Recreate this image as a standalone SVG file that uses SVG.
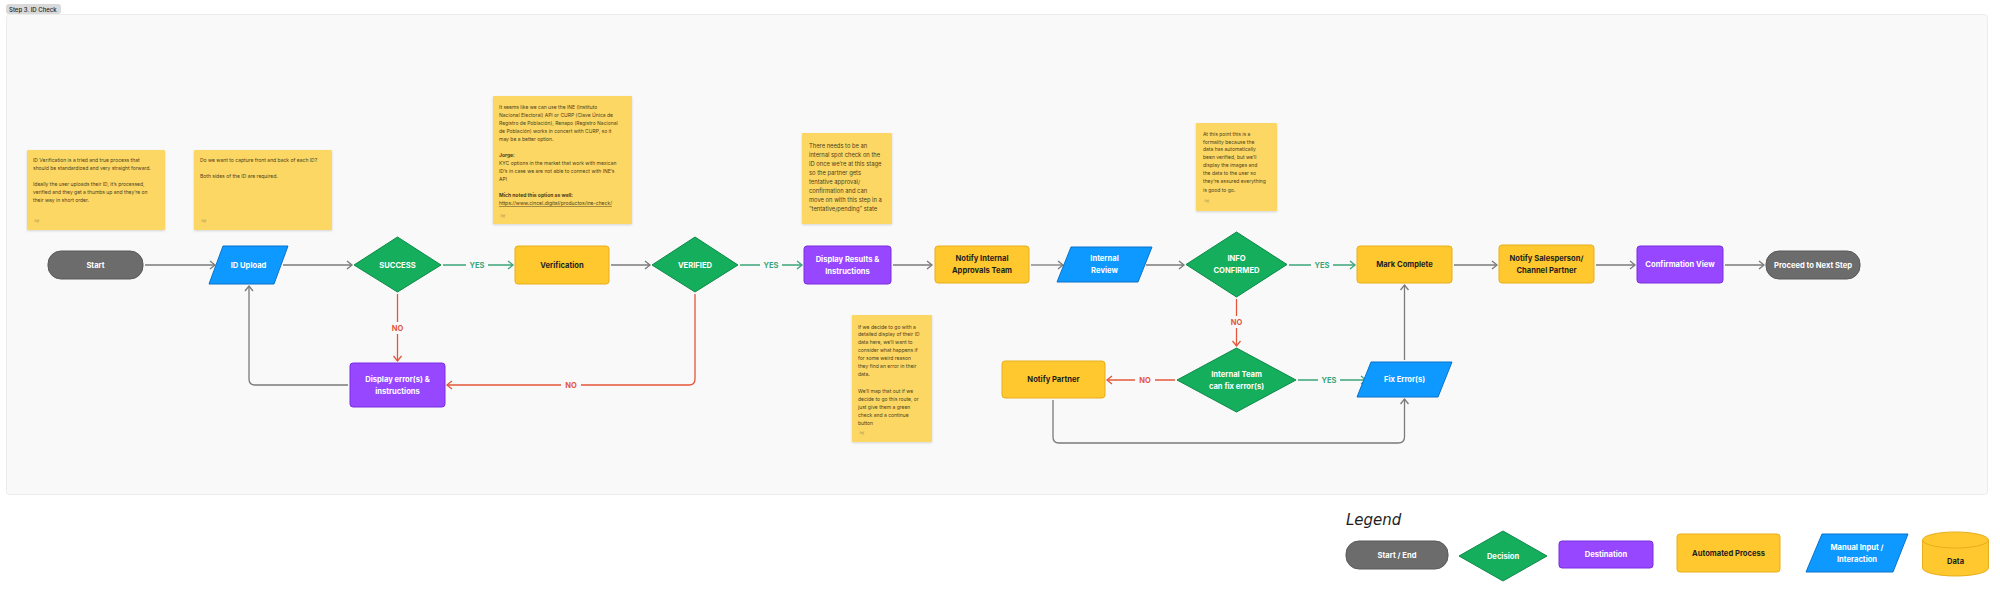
<svg xmlns="http://www.w3.org/2000/svg" width="2000" height="589" viewBox="0 0 2000 589">
<defs>
<style>
.lbl{font-family:Inter,"Liberation Sans",sans-serif;font-size:7.6px;font-weight:700;text-anchor:middle}
.w{fill:#ffffff}
.d{fill:#1e1e1e}
.note{fill:#fdd763;filter:url(#sh)}
.nt{font-family:Inter,"Liberation Sans",sans-serif;font-size:5px;fill:#4a3f1e}
.nt6{font-family:Inter,"Liberation Sans",sans-serif;font-size:5.8px;fill:#4a3f1e}
.sig{font-family:"Liberation Serif",serif;font-style:italic;font-size:3.5px;fill:#9a8a55}
.gray{fill:#6c6c6c;stroke:#595959;stroke-width:1}
.blue{fill:#0d99ff;stroke:#0a72c7;stroke-width:1;stroke-linejoin:round}
.green{fill:#14ae5c;stroke:#0d8a48;stroke-width:1;stroke-linejoin:round}
.yellow{fill:#ffc82e;stroke:#e8ae1c;stroke-width:1}
.purple{fill:#9747ff;stroke:#7a2fe0;stroke-width:1}
.cg{fill:none;stroke:#7a7a7a;stroke-width:1.3}
.cy{fill:none;stroke:#3aa57a;stroke-width:1.3}
.cn{fill:none;stroke:#e4563a;stroke-width:1.3}
.yes{font-family:Inter,"Liberation Sans",sans-serif;font-size:7.5px;font-weight:700;fill:#3aa57a;text-anchor:middle}
.no{font-family:Inter,"Liberation Sans",sans-serif;font-size:7.5px;font-weight:700;fill:#e4563a;text-anchor:middle}
.bg{fill:#f9f9f9}
</style>
<filter id="sh" x="-10%" y="-10%" width="120%" height="130%">
<feDropShadow dx="0" dy="1" stdDeviation="1" flood-color="#000" flood-opacity="0.15"/>
</filter>
<marker id="ag" markerUnits="userSpaceOnUse" markerWidth="8" markerHeight="10" refX="6" refY="5" orient="auto"><path d="M1,1 L6,5 L1,9" fill="none" stroke="#7a7a7a" stroke-width="1.3"/></marker>
<marker id="ay" markerUnits="userSpaceOnUse" markerWidth="8" markerHeight="10" refX="6" refY="5" orient="auto"><path d="M1,1 L6,5 L1,9" fill="none" stroke="#3aa57a" stroke-width="1.3"/></marker>
<marker id="an" markerUnits="userSpaceOnUse" markerWidth="8" markerHeight="10" refX="6" refY="5" orient="auto"><path d="M1,1 L6,5 L1,9" fill="none" stroke="#e4563a" stroke-width="1.3"/></marker>
</defs>
<rect width="2000" height="589" fill="#ffffff"/>
<g id="frame">
<rect x="6.5" y="14.5" width="1981" height="480" rx="3" fill="#f9f9f9" stroke="#ececec" stroke-width="1"/>
<rect x="6" y="4" width="55" height="10" rx="3" fill="#d9d9d9"/>
<text x="9" y="11.6" font-family="Inter,'Liberation Sans',sans-serif" font-size="6px" font-weight="500" fill="#1e1e1e">Step 3. ID Check</text>
</g>

<g id="note1">
<rect class="note" x="27" y="150" width="138" height="80" rx="1"/>
<text class="nt" x="33" y="162">ID Verification is a tried and true process that</text>
<text class="nt" x="33" y="170">should be standardized and very straight forward.</text>
<text class="nt" x="33" y="186">Ideally the user uploads their ID, it’s processed,</text>
<text class="nt" x="33" y="194">verified and they get a thumbs up and they’re on</text>
<text class="nt" x="33" y="202">their way in short order.</text>
<text class="sig" x="34" y="222">Jeff</text>
</g>
<g id="note2">
<rect class="note" x="194" y="150" width="138" height="80" rx="1"/>
<text class="nt" x="200" y="162">Do we want to capture front and back of each ID?</text>
<text class="nt" x="200" y="178">Both sides of the ID are required.</text>
<text class="sig" x="201" y="222">Jeff</text>
</g>
<g id="note3">
<rect class="note" x="493" y="96" width="139" height="128" rx="1"/>
<text class="nt" x="499" y="108.5">It seems like we can use the INE (Instituto</text>
<text class="nt" x="499" y="116.5">Nacional Electoral) API or CURP (Clave Única de</text>
<text class="nt" x="499" y="124.5">Registro de Población), Renapo (Registro Nacional</text>
<text class="nt" x="499" y="132.5">de Población) works in concert with CURP, so it</text>
<text class="nt" x="499" y="140.7">may be a better option.</text>
<text class="nt" x="499" y="156.7" font-weight="700">Jorge:</text>
<text class="nt" x="499" y="164.7">KYC options in the market that work with mexican</text>
<text class="nt" x="499" y="172.7">ID’s in case we are not able to connect with INE’s</text>
<text class="nt" x="499" y="181">API</text>
<text class="nt" x="499" y="197" font-weight="700">Mich noted this option as well:</text>
<text class="nt" x="499" y="205" text-decoration="underline">https://www.cincel.digital/productos/ine-check/</text>
<text class="sig" x="500" y="217">Jeff</text>
</g>
<g id="note4">
<rect class="note" x="802" y="133" width="90" height="91" rx="1"/>
<text class="nt6" x="809" y="147.7">There needs to be an</text>
<text class="nt6" x="809" y="156.7">internal spot check on the</text>
<text class="nt6" x="809" y="165.7">ID once we’re at this stage</text>
<text class="nt6" x="809" y="174.7">so the partner gets</text>
<text class="nt6" x="809" y="183.7">tentative approval/</text>
<text class="nt6" x="809" y="192.7">confirmation and can</text>
<text class="nt6" x="809" y="201.7">move on with this step in a</text>
<text class="nt6" x="809" y="210.7">“tentative/pending” state</text>
</g>
<g id="note5">
<rect class="note" x="1196" y="123" width="81" height="88" rx="1"/>
<text class="nt" x="1203" y="136">At this point this is a</text>
<text class="nt" x="1203" y="143.7">formality because the</text>
<text class="nt" x="1203" y="151.3">data has automatically</text>
<text class="nt" x="1203" y="159.3">been verified, but we’ll</text>
<text class="nt" x="1203" y="167.3">display the images and</text>
<text class="nt" x="1203" y="175">the data to the user so</text>
<text class="nt" x="1203" y="183">they’re assured everything</text>
<text class="nt" x="1203" y="191.7">is good to go.</text>
<text class="sig" x="1204" y="202">Jeff</text>
</g>
<g id="note6">
<rect class="note" x="852" y="315" width="80" height="127" rx="1"/>
<text class="nt" x="858" y="328.7">If we decide to go with a</text>
<text class="nt" x="858" y="336.3">detailed display of their ID</text>
<text class="nt" x="858" y="344">data here, we’ll want to</text>
<text class="nt" x="858" y="352">consider what happens if</text>
<text class="nt" x="858" y="360">for some weird reason</text>
<text class="nt" x="858" y="368">they find an error in their</text>
<text class="nt" x="858" y="376">data.</text>
<text class="nt" x="858" y="392.7">We’ll map that out if we</text>
<text class="nt" x="858" y="400.7">decide to go this route, or</text>
<text class="nt" x="858" y="408.7">just give them a green</text>
<text class="nt" x="858" y="416.7">check and a continue</text>
<text class="nt" x="858" y="424.7">button</text>
<text class="sig" x="859" y="434">Jeff</text>
</g>

<g id="connectors">
<line class="cg" x1="145" y1="265" x2="215" y2="265" marker-end="url(#ag)"/>
<line class="cg" x1="283" y1="265" x2="352" y2="265" marker-end="url(#ag)"/>
<line class="cy" x1="443" y1="265" x2="513" y2="265" marker-end="url(#ay)"/>
<line class="cg" x1="611" y1="265" x2="650" y2="265" marker-end="url(#ag)"/>
<line class="cy" x1="740" y1="265" x2="802" y2="265" marker-end="url(#ay)"/>
<line class="cg" x1="893" y1="265" x2="932" y2="265" marker-end="url(#ag)"/>
<line class="cg" x1="1031" y1="265" x2="1063" y2="265" marker-end="url(#ag)"/>
<line class="cg" x1="1146" y1="265" x2="1184" y2="265" marker-end="url(#ag)"/>
<line class="cy" x1="1289" y1="265" x2="1355" y2="265" marker-end="url(#ay)"/>
<line class="cg" x1="1454" y1="265" x2="1497" y2="265" marker-end="url(#ag)"/>
<line class="cg" x1="1596" y1="265" x2="1635" y2="265" marker-end="url(#ag)"/>
<line class="cg" x1="1725" y1="265" x2="1764" y2="265" marker-end="url(#ag)"/>
<line class="cn" x1="397.5" y1="294" x2="397.5" y2="361" marker-end="url(#an)"/>
<path class="cn" d="M695,294 V379 Q695,385 689,385 H447" marker-end="url(#an)"/>
<path class="cg" d="M348,385 H255 Q249,385 249,379 V286" marker-end="url(#ag)"/>
<line class="cn" x1="1236.5" y1="299" x2="1236.5" y2="346" marker-end="url(#an)"/>
<line class="cn" x1="1175" y1="380" x2="1107" y2="380" marker-end="url(#an)"/>
<line class="cy" x1="1298" y1="380" x2="1366" y2="380" marker-end="url(#ay)"/>
<line class="cg" x1="1404.5" y1="360" x2="1404.5" y2="285" marker-end="url(#ag)"/>
<path class="cg" d="M1053,400 V437 Q1053,443 1059,443 H1398 Q1404.5,443 1404.5,437 V399" marker-end="url(#ag)"/>
<rect class="bg" x="466" y="259" width="22" height="12"/>
<text class="yes" x="477" y="267.7">YES</text>
<rect class="bg" x="760" y="259" width="22" height="12"/>
<text class="yes" x="771" y="267.7">YES</text>
<rect class="bg" x="1311" y="259" width="22" height="12"/>
<text class="yes" x="1322" y="267.7">YES</text>
<rect class="bg" x="1318" y="374" width="22" height="12"/>
<text class="yes" x="1329" y="382.7">YES</text>
<rect class="bg" x="388" y="322" width="19" height="12"/>
<text class="no" x="397.5" y="330.7">NO</text>
<rect class="bg" x="561" y="379" width="20" height="12"/>
<text class="no" x="571" y="387.7">NO</text>
<rect class="bg" x="1227" y="316" width="19" height="12"/>
<text class="no" x="1236.5" y="324.7">NO</text>
<rect class="bg" x="1135" y="374" width="20" height="12"/>
<text class="no" x="1145" y="382.7">NO</text>
</g>

<g id="start">
<rect class="gray" x="48" y="251" width="95" height="28" rx="13"/>
<text class="lbl w" x="95.5" y="267.7">Start</text>
</g>
<g id="id-upload">
<path class="blue" d="M223,246 H288 L274,284 H209 Z"/>
<text class="lbl w" x="248.5" y="267.7">ID Upload</text>
</g>
<g id="success">
<path class="green" d="M397.5,237 L441,265 L397.5,292 L354,265 Z"/>
<text class="lbl w" x="397.5" y="267.7">SUCCESS</text>
</g>
<g id="verification">
<rect class="yellow" x="515" y="246" width="94" height="38" rx="3"/>
<text class="lbl d" x="562" y="267.7">Verification</text>
</g>
<g id="verified">
<path class="green" d="M695,237 L738,265 L695,292 L652,265 Z"/>
<text class="lbl w" x="695" y="267.7">VERIFIED</text>
</g>
<g id="display-results">
<rect class="purple" x="804" y="246" width="87" height="38" rx="3"/>
<text class="lbl w" x="847.5" y="261.7">Display Results &amp;</text>
<text class="lbl w" x="847.5" y="273.7">Instructions</text>
</g>
<g id="notify-internal">
<rect class="yellow" x="935" y="246" width="94" height="37" rx="3"/>
<text class="lbl d" x="982" y="261.2">Notify Internal</text>
<text class="lbl d" x="982" y="273.2">Approvals Team</text>
</g>
<g id="internal-review">
<path class="blue" d="M1071,247 H1152 L1138,282 H1057 Z"/>
<text class="lbl w" x="1104.5" y="261.2">Internal</text>
<text class="lbl w" x="1104.5" y="273.2">Review</text>
</g>
<g id="info-confirmed">
<path class="green" d="M1236.5,232 L1287,264.5 L1236.5,297 L1186,264.5 Z"/>
<text class="lbl w" x="1236.5" y="261.2">INFO</text>
<text class="lbl w" x="1236.5" y="273.2">CONFIRMED</text>
</g>
<g id="mark-complete">
<rect class="yellow" x="1357" y="246" width="95" height="37" rx="3"/>
<text class="lbl d" x="1404.5" y="267.2">Mark Complete</text>
</g>
<g id="notify-salesperson">
<rect class="yellow" x="1499" y="245" width="95" height="38" rx="3"/>
<text class="lbl d" x="1546.5" y="260.7">Notify Salesperson/</text>
<text class="lbl d" x="1546.5" y="272.7">Channel Partner</text>
</g>
<g id="confirmation-view">
<rect class="purple" x="1637" y="246" width="86" height="37" rx="3"/>
<text class="lbl w" x="1680" y="267.2">Confirmation View</text>
</g>
<g id="proceed">
<rect class="gray" x="1766" y="251" width="94" height="28" rx="13"/>
<text class="lbl w" x="1813" y="267.7">Proceed to Next Step</text>
</g>
<g id="display-error">
<rect class="purple" x="350" y="363" width="95" height="44" rx="3"/>
<text class="lbl w" x="397.5" y="382">Display error(s) &amp;</text>
<text class="lbl w" x="397.5" y="394">instructions</text>
</g>
<g id="internal-team">
<path class="green" d="M1236.5,348 L1296,380 L1236.5,412 L1177,380 Z"/>
<text class="lbl w" x="1236.5" y="376.7">Internal Team</text>
<text class="lbl w" x="1236.5" y="388.7">can fix error(s)</text>
</g>
<g id="notify-partner">
<rect class="yellow" x="1002" y="361" width="103" height="37" rx="3"/>
<text class="lbl d" x="1053.5" y="382.2">Notify Partner</text>
</g>
<g id="fix-errors">
<path class="blue" d="M1371,362 H1452 L1438,397 H1357 Z"/>
<text class="lbl w" x="1404.5" y="382.2">Fix Error(s)</text>
</g>

<g id="legend">
<text x="1346" y="525" font-family="'DejaVu Sans','Liberation Sans',sans-serif" font-style="italic" font-size="15px" fill="#1e1e1e">Legend</text>
<g id="legend-start-end">
<rect class="gray" x="1346" y="541" width="102" height="28" rx="13"/>
<text class="lbl w" x="1397" y="557.7">Start / End</text>
</g>
<g id="legend-decision">
<path class="green" d="M1503,531 L1547,556 L1503,581 L1459,556 Z"/>
<text class="lbl w" x="1503" y="558.7">Decision</text>
</g>
<g id="legend-destination">
<rect class="purple" x="1559" y="541" width="94" height="27" rx="3"/>
<text class="lbl w" x="1606" y="557.2">Destination</text>
</g>
<g id="legend-automated">
<rect class="yellow" x="1677" y="534" width="103" height="38" rx="3"/>
<text class="lbl d" x="1728.5" y="555.7">Automated Process</text>
</g>
<g id="legend-manual">
<path class="blue" d="M1822,534 H1908 L1893,572 H1806 Z"/>
<text class="lbl w" x="1857" y="550">Manual Input /</text>
<text class="lbl w" x="1857" y="562">Interaction</text>
</g>
<g id="legend-data">
<path class="yellow" d="M1922.5,540 V568 A33,8 0 0 0 1988.5,568 V540 A33,8 0 0 0 1922.5,540 Z"/>
<path d="M1922.5,540 A33,8 0 0 0 1988.5,540" fill="none" stroke="#e8ae1c" stroke-width="1"/>
<text class="lbl d" x="1955.5" y="563.7">Data</text>
</g>
</g>
</svg>
